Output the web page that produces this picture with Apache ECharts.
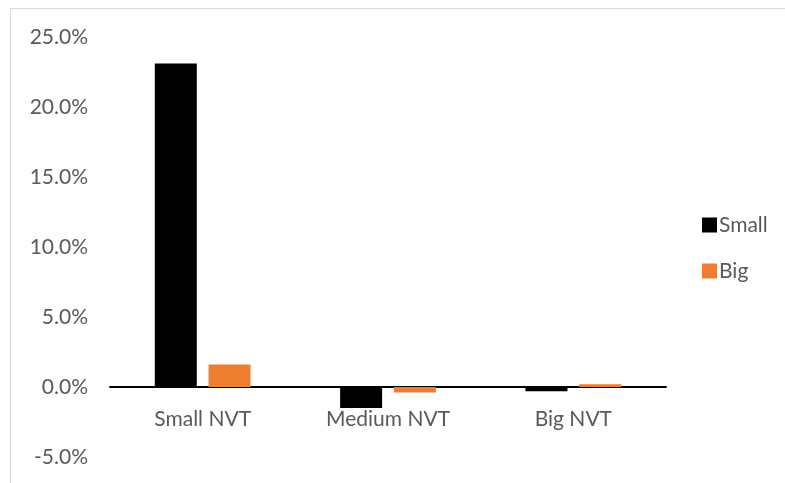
<!DOCTYPE html>
<html>
<head>
<meta charset="utf-8">
<script src="https://cdn.jsdelivr.net/npm/echarts@6/dist/echarts.min.js"></script>
<style>
  html, body { margin: 0; padding: 0; background: #fff; }
  #chart { width: 785px; height: 483px; }
</style>
</head>
<body>
<div id="chart"></div>
<script>
// Categories and series values (percent)
const categories = ['Small NVT', 'Medium NVT', 'Big NVT'];
const smallValues = [23.1, -1.5, -0.3];
const bigValues = [1.6, -0.4, 0.2];
const seriesNames = ['Small', 'Big'];

const FONT = 'Lato, "Open Sans", sans-serif';
const Y_MIN = -5, Y_MAX = 25, Y_STEP = 5;
const GRID_TOP = 37, GRID_BOTTOM = 26;
const chart = echarts.init(document.getElementById('chart'), null, { renderer: 'canvas' });

// pixel distance from the bottom of the plot up to the zero line
const plotHeight = 483 - GRID_TOP - GRID_BOTTOM;
const zeroOffset = plotHeight * (0 - Y_MIN) / (Y_MAX - Y_MIN);

chart.setOption({
  animation: false,
  backgroundColor: '#ffffff',
  textStyle: { fontFamily: FONT },
  graphic: [
    // thin frame lines along the top and left edges
    { type: 'line', shape: { x1: 10, y1: 8.5, x2: 785, y2: 8.5 }, style: { stroke: '#d9d9d9', lineWidth: 1 } },
    { type: 'line', shape: { x1: 10.5, y1: 8, x2: 10.5, y2: 483 }, style: { stroke: '#d9d9d9', lineWidth: 1 } }
  ],
  grid: { left: 110, right: 119, top: GRID_TOP, bottom: GRID_BOTTOM, containLabel: false, outerBoundsMode: 'none' },
  legend: {
    orient: 'vertical',
    left: 697,
    top: 209,
    itemWidth: 15,
    itemHeight: 15,
    itemGap: 24,
    icon: 'rect',
    textStyle: { fontSize: 21, lineHeight: 22, color: '#595959', fontFamily: FONT, padding: [0, 0, 0, -3] },
    data: seriesNames
  },
  xAxis: {
    type: 'category',
    data: categories,
    offset: -zeroOffset,
    axisLine: { onZero: false, lineStyle: { color: '#000000', width: 2 } },
    axisTick: { show: false },
    axisLabel: { fontSize: 21, color: '#595959', margin: 22, fontFamily: FONT }
  },
  yAxis: {
    type: 'value',
    min: Y_MIN,
    max: Y_MAX,
    interval: Y_STEP,
    splitLine: { show: false },
    axisLine: { show: false },
    axisTick: { show: false },
    axisLabel: {
      fontSize: 21,
      color: '#595959',
      margin: 22,
      fontFamily: FONT,
      formatter: v => v.toFixed(1) + '%'
    }
  },
  series: [
    {
      name: seriesNames[0],
      type: 'bar',
      data: smallValues,
      barWidth: 42,
      barGap: '28%',
      itemStyle: { color: '#000000' }
    },
    {
      name: seriesNames[1],
      type: 'bar',
      data: bigValues,
      barWidth: 42,
      itemStyle: { color: '#ED7D31' }
    }
  ]
});
</script>
</body>
</html>
